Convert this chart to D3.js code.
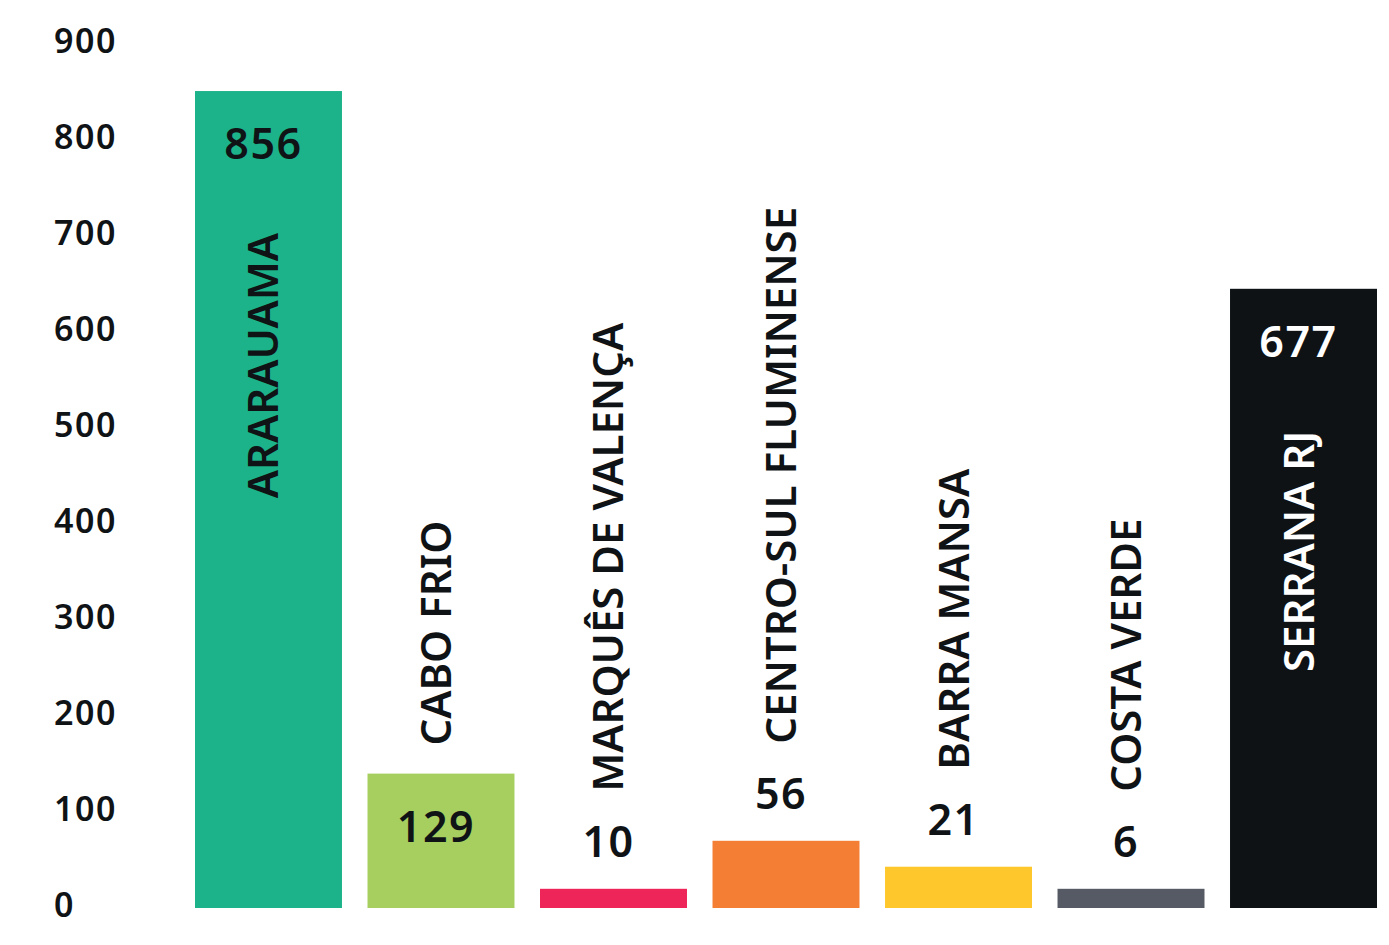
<!DOCTYPE html>
<html>
<head>
<meta charset="utf-8">
<script src="https://cdn.jsdelivr.net/npm/d3@7"></script>
<style>
  body { margin: 0; background: #fff; }
  svg text { font-family: "Noto Sans", "Open Sans", sans-serif; fill: #0f1316; }
</style>
</head>
<body>
<svg class="svg_regions" width="1389" height="945"></svg>
<script>
// regions and the counts printed on the bars
var regions = ["ARARAUAMA", "CABO FRIO", "MARQUÊS DE VALENÇA", "CENTRO-SUL FLUMINENSE", "BARRA MANSA", "COSTA VERDE", "SERRANA RJ"];
var counts = [856, 129, 10, 56, 21, 6, 677];
// bar lengths as drawn, read against the axis (the picture does not draw them to scale)
var barLevels = [851, 140, 20, 70, 43, 20, 645];
var colors = ["#1db38a", "#a6cf5f", "#ee2559", "#f37e34", "#fec82c", "#555a64", "#0e1215"];
var yTicks = [0, 100, 200, 300, 400, 500, 600, 700, 800, 900];

function drawChart() {
    var svg = d3.select(".svg_regions");

    var x = d3.scaleBand()
        .domain(regions)
        .range([195, 1377])
        .paddingInner(0.148)
        .paddingOuter(0);

    var y = d3.scaleLinear()
        .domain([0, 900])
        .range([908, 44]);

    // y axis, labels only
    var yAxis = d3.axisLeft(y)
        .tickValues(yTicks)
        .tickSize(0)
        .tickPadding(0);

    var gy = svg.append("g")
        .attr("class", "y axis")
        .call(yAxis);
    gy.select(".domain").remove();
    gy.selectAll("text")
        .attr("x", 54)
        .attr("dy", "0.3em")
        .attr("text-anchor", "start")
        .style("font-size", "34px")
        .style("font-weight", 600)
        .style("letter-spacing", "1.5px")
        .style("font-family", "\"Noto Sans\", sans-serif")
        .style("fill", "#0f1316")
        .attr("transform", "translate(0,-2)");

    var data = regions.map(function(r, i) {
        return {name: r, count: counts[i], level: barLevels[i], color: colors[i]};
    });

    var bar = svg.selectAll(".bar")
        .data(data)
      .enter().append("g")
        .attr("class", "bar");

    bar.append("rect")
        .attr("x", function(d) { return x(d.name); })
        .attr("width", x.bandwidth())
        .attr("y", function(d) { return y(d.level); })
        .attr("height", function(d) { return y(0) - y(d.level); })
        .style("fill", function(d) { return d.color; });

    function barH(d) { return y(0) - y(d.level); }
    function numInside(d) { return barH(d) > 100; }
    function labelInside(d) { return barH(d) > 450; }
    function numY(d) { return numInside(d) ? y(d.level) + 53 : y(d.level) - 47; }
    var textCol = function(d) { return d.color == "#0e1215" ? "#ffffff" : "#0f1316"; };

    // count numbers
    bar.append("text")
        .attr("x", function(d) { return x(d.name) + x.bandwidth() / 2 - 5; })
        .attr("y", numY)
        .attr("dy", "0.357em")
        .attr("text-anchor", "middle")
        .style("font-size", "43px")
        .style("font-weight", 600)
        .style("letter-spacing", "1.5px")
        .style("fill", function(d) { return numInside(d) ? textCol(d) : "#0f1316"; })
        .text(function(d) { return d.count; });

    // rotated region names
    bar.append("text")
        .attr("transform", function(d) {
            var cx = x(d.name) + x.bandwidth() / 2 - 5;
            var ty;
            if (labelInside(d)) ty = y(d.level) + 142;
            else if (numInside(d)) ty = y(d.level) - 28;
            else ty = numY(d) - 50;
            return "translate(" + cx + "," + ty + ") rotate(-90)";
        })
        .attr("dy", "0.357em")
        .attr("text-anchor", function(d) { return labelInside(d) ? "end" : "start"; })
        .style("font-size", "42px")
        .style("font-weight", 600)
        .style("fill", function(d) { return labelInside(d) ? textCol(d) : "#0f1316"; })
        .text(function(d) { return d.name; });
}

drawChart();
</script>
</body>
</html>
